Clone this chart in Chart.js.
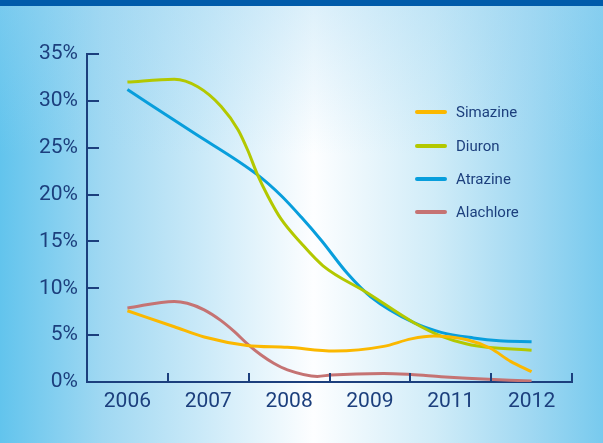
<!DOCTYPE html>
<html>
<head>
<meta charset="utf-8">
<script src="https://cdn.jsdelivr.net/npm/chart.js@4.4.0/dist/chart.umd.min.js"></script>
<style>
  html, body { margin: 0; padding: 0; }
  #wrap {
    position: relative;
    width: 603px;
    height: 443px;
    overflow: hidden;
    background:
      linear-gradient(to bottom, rgba(160, 214, 242, 0.35) 0%, rgba(255, 255, 255, 0) 35%),
      linear-gradient(to right, #62c4ed 0%, #a0d8f2 17%, #c9e9f8 33%, #fdfeff 52%, #d0ecf8 72%, #a0d8f2 88%, #78caee 100%);
  }
  #band { position: absolute; left: 0; top: 0; width: 603px; height: 6px; background: #005baa; }
  canvas { position: absolute; left: 0; top: 0; }
  .legend-row { position: absolute; left: 415px; height: 20px; display: flex; align-items: center; }
  .legend-line { width: 32px; height: 4px; border-radius: 2px; margin-right: 9px; }
  .legend-text { font: 15px Roboto, sans-serif; color: #1c3f7d; }
</style>
</head>
<body>
<div id="wrap">
  <div id="band"></div>
  <canvas id="chart" width="603" height="443"></canvas>
  <div id="legend"></div>
</div>
<script>
const years = ["2006", "2007", "2008", "2009", "2011", "2012"];
const yTickValues = [0, 5, 10, 15, 20, 25, 30, 35];
const seriesNames = ["Simazine", "Diuron", "Atrazine", "Alachlore"];
const seriesColors = ["#fbb800", "#b3c800", "#089edc", "#c57373"];

// x is the position along the years (0 = 2006 ... 5 = 2012), y is the share in %
const simazineX = [0, 0.58, 0.95, 1.48, 1.98, 2.56, 3.17, 3.51, 3.79, 4.2, 4.49, 4.74, 5];
const simazineY = [7.6, 5.9, 4.8, 3.9, 3.7, 3.3, 3.8, 4.6, 4.9, 4.5, 3.6, 2.2, 1.1];
const diuronX = [0, 0.58, 0.87, 1.16, 1.37, 1.49, 1.61, 1.74, 1.9, 2.15, 2.42, 2.97, 3.55, 3.88, 4.2, 4.45, 5];
const diuronY = [32.0, 32.3, 31.5, 29.4, 26.9, 24.7, 22.1, 19.8, 17.4, 14.8, 12.4, 9.5, 6.3, 4.9, 4.05, 3.7, 3.4];
const atrazineX = [0, 0.8, 1.61, 1.9, 2.15, 2.4, 2.72, 3.01, 3.55, 3.88, 4.28, 4.6, 5];
const atrazineY = [31.2, 26.7, 22.1, 19.9, 17.6, 15.1, 11.6, 9.1, 6.3, 5.3, 4.7, 4.4, 4.3];
const alachloreX = [0, 0.58, 0.74, 0.95, 1.15, 1.32, 1.48, 1.65, 1.81, 1.98, 2.35, 2.52, 3.17, 3.51, 3.88, 4.2, 5];
const alachloreY = [7.9, 8.6, 8.4, 7.7, 6.6, 5.4, 4.1, 2.9, 2.0, 1.3, 0.6, 0.75, 0.92, 0.8, 0.57, 0.4, 0.1];

const seriesX = [simazineX, diuronX, atrazineX, alachloreX];
const seriesY = [simazineY, diuronY, atrazineY, alachloreY];
const navy = "#1c3f7d";

Chart.defaults.font.family = "Roboto";

// small inward tick marks like the original
const tickMarks = {
  id: "tickMarks",
  afterDraw(chart) {
    const { ctx, chartArea, scales } = chart;
    ctx.save();
    ctx.strokeStyle = navy;
    ctx.lineWidth = 2;
    ctx.beginPath();
    scales.y.ticks.forEach((t) => {
      const y = Math.round(scales.y.getPixelForValue(t.value));
      ctx.moveTo(chartArea.left, y);
      ctx.lineTo(chartArea.left + 12, y);
    });
    for (let k = 0; k <= years.length; k++) {
      const x = Math.round(scales.x.getPixelForValue(k - 0.5));
      ctx.moveTo(x, chartArea.bottom);
      ctx.lineTo(x, chartArea.bottom - 9);
    }
    ctx.stroke();
    ctx.restore();
  },
};

new Chart(document.getElementById("chart"), {
  type: "line",
  data: {
    datasets: seriesNames.map((name, s) => ({
      label: name,
      data: seriesX[s].map((x, i) => ({ x: x, y: seriesY[s][i] })),
      borderColor: seriesColors[s],
      borderWidth: 3,
      pointRadius: 0,
      fill: false,
      cubicInterpolationMode: "monotone",
    })),
  },
  options: {
    responsive: false,
    animation: false,
    devicePixelRatio: 1,
    layout: { padding: { top: 54, right: 31, left: 0, bottom: 0 } },
    plugins: { legend: { display: false }, tooltip: { enabled: false } },
    scales: {
      x: {
        type: "linear",
        min: -0.5,
        max: 5.5,
        afterBuildTicks: (scale) => {
          scale.ticks = years.map((y, i) => ({ value: i }));
        },
        afterFit: (scale) => {
          scale.height = 61;
        },
        ticks: {
          callback: (v) => years[v],
          font: { size: 21 },
          color: navy,
          padding: 7,
          autoSkip: false,
          maxRotation: 0,
        },
        grid: { display: false, drawTicks: false },
        border: { display: true, color: navy, width: 2 },
      },
      y: {
        min: 0,
        max: 35,
        afterBuildTicks: (scale) => {
          scale.ticks = yTickValues.map((v) => ({ value: v }));
        },
        afterFit: (scale) => {
          scale.width = 87;
        },
        ticks: {
          callback: (v) => v + "%",
          font: { size: 21 },
          color: navy,
          padding: 9,
        },
        grid: { display: false, drawTicks: false },
        border: { display: true, color: navy, width: 2 },
      },
    },
  },
  plugins: [tickMarks],
});

const legendEl = document.getElementById("legend");
const legendRowY = [112, 146, 179, 212];
legendEl.innerHTML = seriesNames
  .map(
    (name, s) => `
    <div class="legend-row" style="top:${legendRowY[s] - 10}px">
      <span class="legend-line" style="background:${seriesColors[s]}"></span>
      <span class="legend-text">${name}</span>
    </div>`,
  )
  .join("");
</script>
</body>
</html>
